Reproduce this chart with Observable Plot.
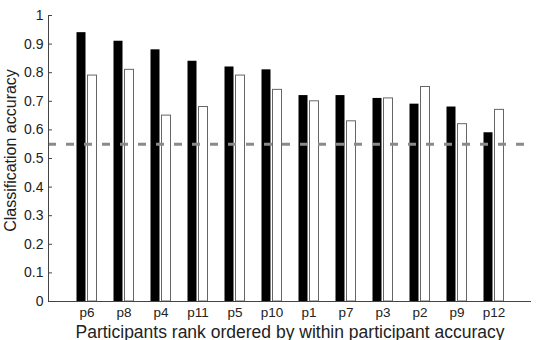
<!DOCTYPE html>
<html>
<head>
<meta charset="utf-8">
<script src="https://cdn.jsdelivr.net/npm/d3@7"></script>
<script src="https://cdn.jsdelivr.net/npm/@observablehq/plot@0.6"></script>
<style>
  html, body { margin: 0; padding: 0; background: #fff; }
  #chart { width: 536px; height: 340px; }
  svg { font-family: "Liberation Sans", Arial, sans-serif; }
</style>
</head>
<body>
<div id="chart"></div>
<script>
const participants = ["p6","p8","p4","p11","p5","p10","p1","p7","p3","p2","p9","p12"];
const withinAcc = [0.94,0.91,0.88,0.84,0.82,0.81,0.72,0.72,0.71,0.69,0.68,0.59];
const acrossAcc = [0.79,0.81,0.65,0.68,0.79,0.74,0.70,0.63,0.71,0.75,0.62,0.67];
const chance = [0.55];
const yTicks = [0,0.1,0.2,0.3,0.4,0.5,0.6,0.7,0.8,0.9,1];
const yTickLabels = ["0","0.1","0.2","0.3","0.4","0.5","0.6","0.7","0.8","0.9","1"];
const xTitle = "Participants rank ordered by within participant accuracy";
const yTitle = "Classification accuracy";

const rows = participants.map((p, i) => ({p, within: withinAcc[i], across: acrossAcc[i]}));

const chart = Plot.plot({
  width: 536,
  height: 340,
  marginLeft: 48,
  marginRight: 5,
  marginTop: 15,
  marginBottom: 39,
  style: {fontFamily: "Liberation Sans, Arial, sans-serif", color: "#222", background: "#fff"},
  x: {type: "band", domain: participants, paddingInner: 0.763, paddingOuter: 0.88},
  y: {domain: [0, 1]},
  marks: [
    Plot.barY(rows, {x: "p", y: "within", fill: "black", dx: -5.5}),
    Plot.barY(rows, {x: "p", y: "across", fill: "white", stroke: "#666", strokeWidth: 1, dx: 5.5}),
    Plot.ruleY(chance, {stroke: "#8a8a8a", strokeWidth: 3, strokeDasharray: "8,10"}),
    Plot.frame({anchor: "left", stroke: "#444"}),
    Plot.ruleY([0], {stroke: "#444"}),
    Plot.axisY(yTicks, {tickSize: -4, tickPadding: 9, tickFormat: (d, i) => yTickLabels[i], fontSize: 14, stroke: "#444", label: null}),
    Plot.axisX({tickSize: 0, tickPadding: 6, fontSize: 13.5, label: null}),
    Plot.text([xTitle], {frameAnchor: "bottom", lineAnchor: "bottom", dy: 36, fontSize: 17.5, fill: "#222"}),
    Plot.text([yTitle], {frameAnchor: "left", textAnchor: "middle", rotate: -90, dx: -38, dy: -8, fontSize: 16, fill: "#222"})
  ]
});
document.getElementById("chart").appendChild(chart);
</script>
</body>
</html>
